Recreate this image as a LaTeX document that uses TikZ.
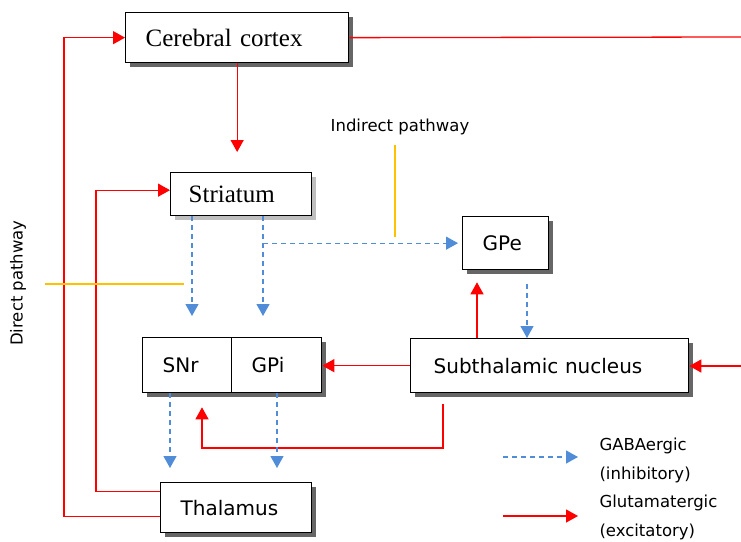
\documentclass[tikz,border=0pt]{standalone}
\usepackage{fontspec}
\setmainfont{Liberation Serif}
\setsansfont{DejaVu Sans}
\usetikzlibrary{arrows.meta,shadows,calc}
\definecolor{gaba}{RGB}{80,140,215}
\definecolor{leader}{RGB}{255,192,0}
\begin{document}
\begin{tikzpicture}[x=1pt,y=-1pt,
  box/.style={draw=black, line width=1.3pt, fill=white, anchor=north west, align=left, inner ysep=0pt,
     drop shadow={shadow xshift=4pt, shadow yshift=-4pt, fill=black!60, opacity=1}},
  lightbox/.style={box, drop shadow={shadow xshift=4pt, shadow yshift=-4pt, fill=black!25, opacity=1}},
  serifbox/.style={font=\rmfamily\fontsize{25}{28}\selectfont},
  sansbox/.style={font=\sffamily\fontsize{20}{24}\selectfont},
  small/.style={font=\sffamily\fontsize{16.5}{29}\selectfont},
  excit/.style={draw=red, line width=1.3pt, -{Triangle[length=12pt,width=13pt]}},
  excitline/.style={draw=red, line width=1.3pt},
  inhib/.style={draw=gaba, line width=1.2pt, dash pattern=on 5pt off 4pt, -{Triangle[length=12pt,width=13pt]}},
  leaderline/.style={draw=leader, line width=1.2pt}]
\useasboundingbox (0,0) rectangle (741,541);

% boxes
\node[box, serifbox, text width=183pt, inner xsep=20pt, minimum height=50pt] (cortex) at (125,12) {Cerebral cortex};
\node[lightbox, serifbox, text width=105pt, inner xsep=18pt, minimum height=43pt] (str) at (170,172) {Striatum};
\node[box, sansbox, text width=46pt, inner xsep=20pt, minimum height=53pt] (gpe) at (462,216) {GPe};
\node[box, sansbox, text width=232pt, inner xsep=23pt, minimum height=54pt] (stn) at (410,338) {Subthalamic nucleus};
\node[box, sansbox, text width=49pt, inner xsep=20pt, minimum height=55pt] (snr) at (142,337) {SNr};
\node[box, sansbox, text width=50pt, inner xsep=20pt, minimum height=55pt] (gpi) at (231,337) {GPi};
\node[box, sansbox, text width=111pt, inner xsep=20pt, minimum height=50pt] (thal) at (160,482) {Thalamus};

% labels
\node[small] (ind) at (400,127) {Indirect pathway};
\node[small, rotate=90] (dir) at (18,283) {Direct pathway};

% free ends
\coordinate (rightout) at (741,37);
\coordinate (rightin) at (741,366);
\coordinate (indtop) at (395,145);
\coordinate (indbot) at (395,237);
\coordinate (dirleft) at (45,284);
\coordinate (dirright) at (184,284);

% glutamatergic
\draw[excitline] (cortex.east) -- (rightout);
\draw[excit, shorten >=20pt] (cortex.south) -- (cortex.south |- str.north);
\draw[excit] ([yshift=-9pt]thal.west) -| ([xshift=-61pt]cortex.west) -- (cortex.west);
\draw[excit] ([yshift=16pt]thal.west) -| ([xshift=-74pt,yshift=4pt]str.west) -- ([yshift=4pt]str.west);
\draw[excit] (stn.west) -- (stn.west -| gpi.east);
\draw[excit] (rightin) -- (rightin -| stn.east);
\draw[excit, shorten >=12pt] ([xshift=67pt]stn.north west) -- ([xshift=67pt]stn.north west |- gpe.south);
\coordinate (r1) at ([xshift=33pt,yshift=-11pt]stn.south west);
\coordinate (r2) at ([xshift=60pt,yshift=-14pt]snr.south west);
\draw[excit] (r1) -- (r1 |- 0,448) -| (r2);

% GABAergic
\coordinate (s1) at ([xshift=22pt]str.south west);
\coordinate (s2) at ([xshift=93pt]str.south west);
\draw[inhib, shorten >=21pt] (s1) -- (s1 |- snr.north);
\draw[inhib, shorten >=21pt] (s2) -- (s2 |- gpi.north);
\draw[inhib, shorten >=4pt] (s2 |- gpe.west) -- (gpe.west);
\coordinate (g1) at ([xshift=65pt,yshift=-14pt]gpe.south west);
\draw[inhib] (g1) -- (g1 |- stn.north);
\coordinate (n1) at ([xshift=28pt]snr.south west);
\coordinate (n2) at ([xshift=46pt]gpi.south west);
\draw[inhib, shorten >=14pt] (n1) -- (n1 |- thal.north);
\draw[inhib, shorten >=14pt] (n2) -- (n2 |- thal.north);

% leader lines
\draw[leaderline] (indtop) -- (indbot);
\draw[leaderline] (dirleft) -- (dirright);

% legend
\coordinate (la1) at (503,457);
\coordinate (la2) at (578,457);
\coordinate (lb1) at (503,516);
\coordinate (lb2) at (578,516);
\draw[inhib] (la1) -- (la2);
\draw[excit] (lb1) -- (lb2);
\node[small, anchor=west, align=left] (leg1) at (596,460) {GABAergic\\(inhibitory)};
\node[small, anchor=west, align=left] (leg2) at (596,517) {Glutamatergic\\(excitatory)};
\end{tikzpicture}
\end{document}
